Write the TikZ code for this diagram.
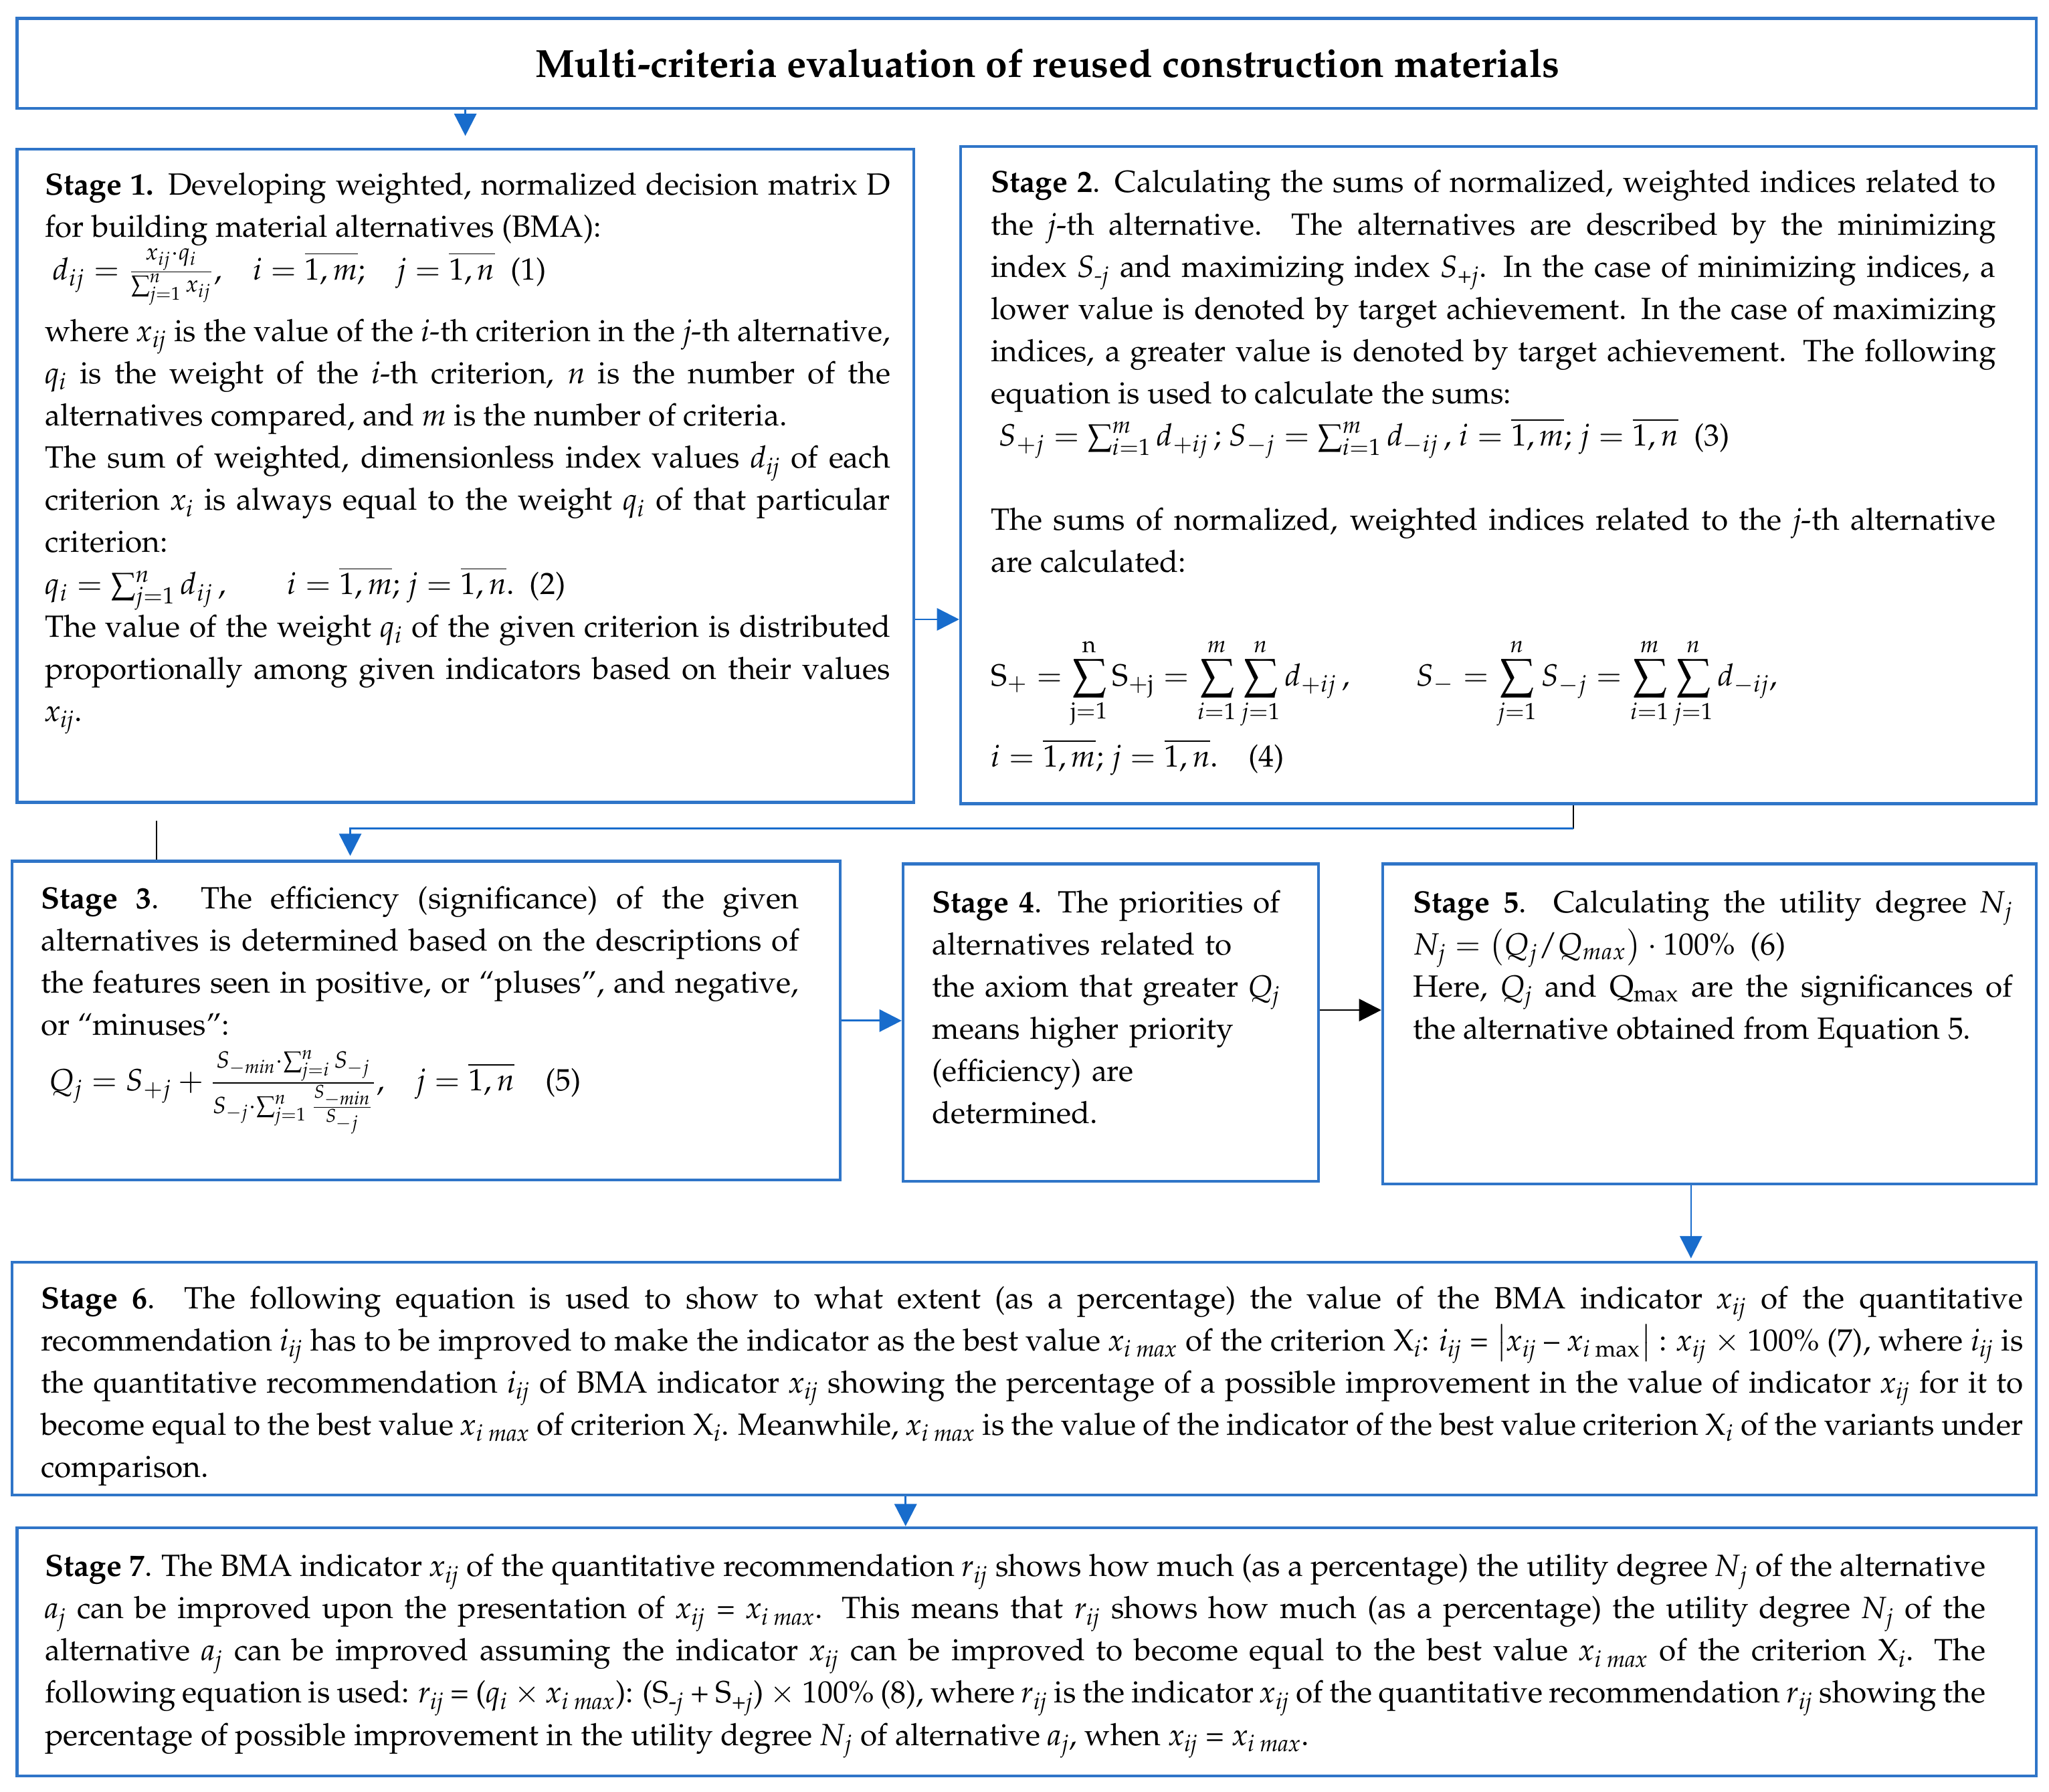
\documentclass[tikz,border=0pt]{standalone}
\usepackage[T1]{fontenc}
\usepackage{mathpazo}
\usepackage{amsmath}
\usetikzlibrary{positioning}
\usetikzlibrary{arrows.meta}
\definecolor{boxblue}{RGB}{47,117,200}
\definecolor{arrowblue}{RGB}{24,108,204}
\setlength{\parindent}{0pt}
\hyphenpenalty=10000
\tolerance=3000
\emergencystretch=8pt
\newcommand{\tv}[2]{\textit{#1}\textsubscript{\textit{#2}}}
\tikzset{stage/.style = {draw=boxblue, line width=1.1pt, anchor=north west,
                         inner sep=0, rectangle}}
\tikzset{stagetext/.style = {anchor=north west, inner sep=0, align=justify,
                             font=\fontsize{11.75}{16.15}\selectfont}}
\tikzset{link/.style = {draw=arrowblue, line width=0.7pt,
                        -{Triangle[width=8.5pt,length=8.5pt]}}}
\tikzset{blink/.style = {draw=black, line width=0.7pt,
                         -{Triangle[width=8.5pt,length=8.5pt]}}}

\begin{document}
\begin{tikzpicture}[x=0.5pt,y=-0.5pt]
  \useasboundingbox (0,0) rectangle (1568,1371);

  % frames
  \node[stage, minimum width=772.5pt, minimum height=34.5pt,
        font=\fontsize{15}{18}\selectfont\bfseries] (title) at (12,13)
        {\hspace*{16pt}Multi-criteria evaluation of reused construction materials};
  \node[stage, minimum width=343pt, minimum height=250pt] (stage1) at (12,113) {};
  \node[stage, minimum width=411.5pt, minimum height=251.5pt] (stage2) at (734,111) {};
  \node[stage, minimum width=317pt, minimum height=122pt] (stage3) at (8,658) {};
  \node[stage, minimum width=159pt, minimum height=121.5pt] (stage4) at (690,660) {};
  \node[stage, minimum width=250pt, minimum height=122.5pt] (stage5) at (1057,660) {};
  \node[stage, minimum width=774.5pt, minimum height=89pt] (stage6) at (8,965) {};
  \node[stage, minimum width=772.5pt, minimum height=95pt] (stage7) at (12,1168) {};

  % texts
  \node[stagetext, text width=323.5pt] (stage1txt) at ([shift={(22,19)}]stage1.north west)
    {\textbf{Stage 1.} Developing weighted, normalized decision matrix D
     for building material alternatives (BMA):\par
     \hspace*{3pt}$d_{ij}=\frac{x_{ij}\cdot q_i}{\sum_{j=1}^{n}x_{ij}}$,\quad
     $i=\overline{1,m}$;\quad $j=\overline{1,n}$\ \ (1)\par
     \vspace{4.5pt}
     where \tv{x}{ij} is the value of the \textit{i}-th criterion in the \textit{j}-th alternative,
     \tv{q}{i} is the weight of the \textit{i}-th criterion, \textit{n} is the number of the
     alternatives compared, and \textit{m} is the number of criteria.\par
     The sum of weighted, dimensionless index values \tv{d}{ij} of each
     criterion \tv{x}{i} is always equal to the weight \tv{q}{i} of that particular
     criterion:\par
     $q_i=\sum_{j=1}^{n}d_{ij}$\,,\qquad $i=\overline{1,m}$; $j=\overline{1,n}$.\ \ (2)\par
     The value of the weight \tv{q}{i} of the given criterion is distributed
     proportionally among given indicators based on their values \tv{x}{ij}.};

  \node[stagetext, text width=384.5pt] (stage2txt) at ([shift={(24,19)}]stage2.north west)
    {\textbf{Stage 2}. Calculating the sums of normalized, weighted indices related to\linebreak
     the \textit{j}-th alternative. The alternatives are described by the minimizing\linebreak
     index \tv{S}{-j} and maximizing index \tv{S}{+j}. In the case of minimizing indices, a\linebreak
     lower value is denoted by target achievement. In the case of maximizing\linebreak
     indices, a greater value is denoted by target achievement. The following\linebreak
     equation is used to calculate the sums:\par
     \hspace*{3pt}$S_{+j}=\sum_{i=1}^{m}d_{+ij}$\,; $S_{-j}=\sum_{i=1}^{m}d_{-ij}$\,,
     $i=\overline{1,m}$; $j=\overline{1,n}$\ \ (3)\par
     \vspace{16.15pt}
     The sums of normalized, weighted indices related to the \textit{j}-th alternative\linebreak
     are calculated:\par
     \vspace{24pt}
     $\displaystyle \mathrm{S}_{+}=\sum_{\mathrm{j}=1}^{\mathrm{n}}\mathrm{S}_{+\mathrm{j}}
      =\sum_{i=1}^{m}\sum_{j=1}^{n}d_{+ij}\,,\qquad
      S_{-}=\sum_{j=1}^{n}S_{-j}=\sum_{i=1}^{m}\sum_{j=1}^{n}d_{-ij},$\par
     \vspace{3pt}
     $i=\overline{1,m}$; $j=\overline{1,n}$.\quad (4)};

  \node[stagetext, text width=290pt] (stage3txt) at ([shift={(23,20)}]stage3.north west)
    {\textbf{Stage 3}. The efficiency (significance) of the given
     alternatives is determined based on the descriptions of
     the features seen in positive, or ``pluses'', and negative,
     or ``minuses'':\par
     \vspace{5pt}
     \hspace*{3pt}$Q_j=S_{+j}+\frac{S_{-\mathit{min}}\cdot\sum_{j=i}^{n}S_{-j}}
      {S_{-j}\cdot\sum_{j=1}^{n}\frac{S_{-\mathit{min}}}{S_{-j}}}$,\quad
     $j=\overline{1,n}$\quad (5)};

  \node[stagetext, text width=140pt, align=left] (stage4txt) at ([shift={(23,21)}]stage4.north west)
    {\textbf{Stage 4}. The priorities of\\
     alternatives related to\\
     the axiom that greater \tv{Q}{j}\\
     means higher priority\\
     (efficiency) are\\
     determined.};

  \node[stagetext, text width=229.5pt] (stage5txt) at ([shift={(24,21)}]stage5.north west)
    {\textbf{Stage 5}. Calculating the utility degree \tv{N}{j}\linebreak
     $N_j=\left(Q_j/Q_{max}\right)\cdot 100\%$\ \ (6)\par
     Here, \tv{Q}{j} and Q\textsubscript{max} are the significances of\linebreak
     the alternative obtained from Equation 5.};

  \node[stagetext, text width=758.5pt] (stage6txt) at ([shift={(23,19)}]stage6.north west)
    {\textbf{Stage 6}. The following equation is used to show to what extent (as a
     percentage) the value of the BMA indicator \tv{x}{ij} of the quantitative\linebreak
     recommendation \tv{i}{ij} has to be improved to make the indicator as the best
     value \tv{x}{i max} of the criterion X\textsubscript{\textit{i}}: \tv{i}{ij} =
     $\bigl|$\tv{x}{ij} -- \textit{x}\textsubscript{\textit{i} max}$\bigr|$
     : \tv{x}{ij} $\times$ 100\% (7), where \tv{i}{ij} is\linebreak
     the quantitative recommendation
     \tv{i}{ij} of BMA indicator \tv{x}{ij} showing the percentage of a possible
     improvement in the value of indicator \tv{x}{ij} for it to\linebreak
     become equal to the
     best value \tv{x}{i max} of criterion X\textsubscript{\textit{i}}. Meanwhile,
     \tv{x}{i max} is the value of the indicator of the best value criterion
     X\textsubscript{\textit{i}} of the variants under\linebreak
     comparison.};

  \node[stagetext, text width=742.5pt] (stage7txt) at ([shift={(22,21)}]stage7.north west)
    {\textbf{Stage 7}. The BMA indicator \tv{x}{ij} of the quantitative recommendation
     \tv{r}{ij} shows how much (as a percentage) the utility degree \tv{N}{j} of the
     alternative\linebreak
     \tv{a}{j} can be improved upon the presentation of
     \tv{x}{ij} = \tv{x}{i max}. This means that \tv{r}{ij} shows how much (as a
     percentage) the utility degree \tv{N}{j} of the\linebreak
     alternative \tv{a}{j} can be
     improved assuming the indicator \tv{x}{ij} can be improved to become equal to
     the best value \tv{x}{i max} of the criterion X\textsubscript{\textit{i}}. The\linebreak
     following equation is used: \tv{r}{ij} = (\tv{q}{i} $\times$ \tv{x}{i max}):
     (S\textsubscript{-\textit{j}} + S\textsubscript{+\textit{j}}) $\times$ 100\% (8),
     where \tv{r}{ij} is the indicator \tv{x}{ij} of the quantitative recommendation
     \tv{r}{ij} showing the\linebreak
     percentage of possible improvement in the utility degree
     \tv{N}{j} of alternative \tv{a}{j}, when \tv{x}{ij} = \tv{x}{i max}.};

  % connectors
  \coordinate (k12) at (700,474);
  \coordinate (k2) at (1204,634);
  \coordinate (k3) at (268,634);
  \coordinate (k0) at (120,628);
  \coordinate (k45) at (1010,773);
  \coordinate (k56) at (1294,930);
  \coordinate (k67) at (693,1150);

  \draw[link, shorten >=4.5pt] (title.south -| stage1.north) -- (stage1.north);
  \draw[link] (k12 -| stage1.east) -- (k12 -| stage2.west);
  \draw[line width=0.5pt] (stage2.south -| k2) -- (k2);
  \draw[link, shorten >=1.5pt] (k2) -- (k3) -- (k3 |- stage3.north);
  \draw[line width=0.5pt] (k0) -- (k0 |- stage3.north);
  \draw[link] (stage3.east) -- (stage3.east -| stage4.west);
  \draw[blink] (k45 -| stage4.east) -- (k45 -| stage5.west);
  \draw[link, line width=0.5pt, shorten >=1pt] (stage5.south -| k56) -- (stage6.north -| k56);
  \draw[link] (stage6.south -| k67) -- (stage7.north -| k67);
\end{tikzpicture}
\end{document}
